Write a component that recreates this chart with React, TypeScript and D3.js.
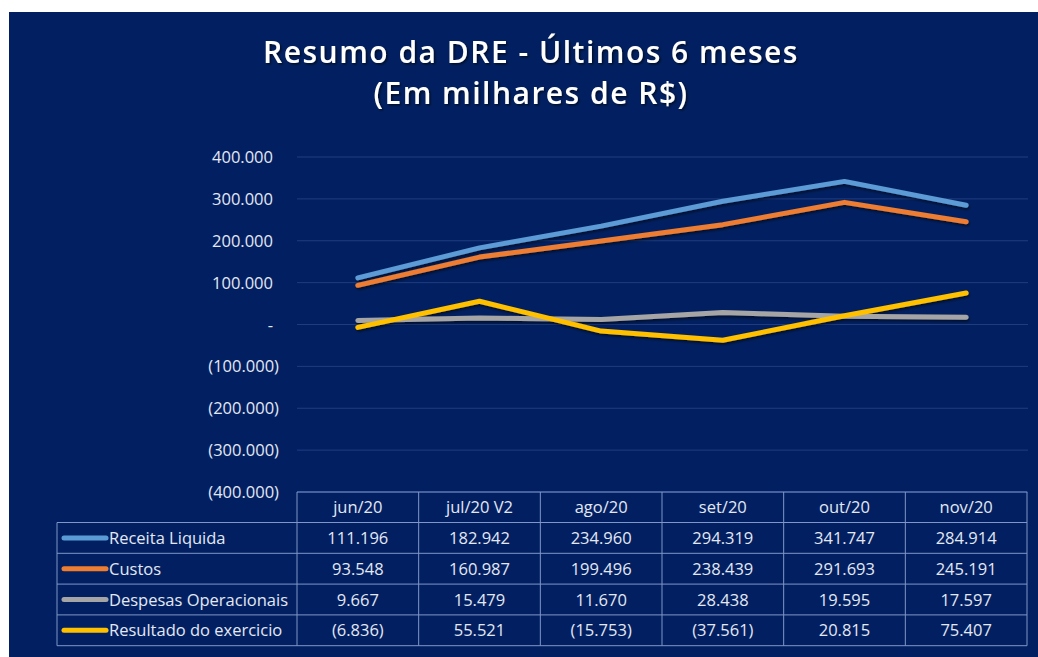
import React from "react";
import * as d3 from "d3";

const categories = ["jun/20", "jul/20 V2", "ago/20", "set/20", "out/20", "nov/20"];
const seriesNames = ["Receita Liquida", "Custos", "Despesas Operacionais", "Resultado do exercicio"];
const receita = [111196, 182942, 234960, 294319, 341747, 284914];
const custos = [93548, 160987, 199496, 238439, 291693, 245191];
const despesas = [9667, 15479, 11670, 28438, 19595, 17597];
const resultado = [-6836, 55521, -15753, -37561, 20815, 75407];
const colors = ["#5B9BD5", "#ED7D31", "#A5A5A5", "#FFC000"];
const yTicks = [400000, 300000, 200000, 100000, 0, -100000, -200000, -300000, -400000];

const W = 1038;
const H = 657;
const FONT = "'Open Sans', 'Noto Sans', sans-serif";

const fmtBase = d3.formatLocale({ decimal: ",", thousands: ".", grouping: [3], currency: ["R$", ""] }).format(",.0f");
function fmt(v: number): string {
  if (v === 0) return "-";
  if (v < 0) return "(" + fmtBase(-v) + ")";
  return fmtBase(v);
}

export default function App() {
  const series = [receita, custos, despesas, resultado];
  const plotLeft = 297;
  const plotRight = 1027;
  const x = d3.scaleBand<string>().domain(categories).range([plotLeft, plotRight]).padding(0);
  const y = d3.scaleLinear().domain([-400000, 400000]).range([492, 157]);
  const line = d3
    .line<number>()
    .x((_, i) => (x(categories[i]) as number) + x.bandwidth() / 2)
    .y((d) => y(d));

  const tableTop = 492;
  const headerH = 30.5;
  const rowH = 30.8;
  const labelLeft = 57;
  const tableBottom = tableTop + headerH + rowH * 4;
  const border = "#7f96c8";
  const textCol = "#e3e8f4";

  return (
    <div style={{ position: "fixed", left: 0, top: 0 }}>
      <svg width={W} height={H} style={{ display: "block", background: "#ffffff" }}>
        <defs>
          <filter id="sh" x="-10%" y="-50%" width="120%" height="200%">
            <feDropShadow dx="1" dy="2" stdDeviation="1.5" floodColor="#000000" floodOpacity="0.55" />
          </filter>
          <filter id="tsh" x="-10%" y="-50%" width="120%" height="200%">
            <feDropShadow dx="1.5" dy="1.5" stdDeviation="1" floodColor="#000000" floodOpacity="0.6" />
          </filter>
        </defs>
        <rect x={9} y={12} width={W - 9} height={H - 12} fill="#022061" />
        <g fill="#ffffff" fontFamily={FONT} fontWeight={600} fontSize={30} textAnchor="middle" filter="url(#tsh)" style={{ letterSpacing: "1.5px" }}>
          <text x={531} y={63}>Resumo da DRE - Últimos 6 meses</text>
          <text x={531} y={104}>(Em milhares de R$)</text>
        </g>
        {/* gridlines */}
        {yTicks.map((t) => (
          <line key={"g" + t} x1={plotLeft} x2={plotRight + 1} y1={y(t)} y2={y(t)} stroke="#1f3c80" strokeWidth={1} />
        ))}
        {/* y labels */}
        <g fontFamily={FONT} fontSize={16.5} fill={textCol}>
          {yTicks.map((t) => (
            <text key={"l" + t} x={t < 0 ? 279 : 273} y={y(t) + 6} textAnchor="end">
              {fmt(t)}
            </text>
          ))}
        </g>
        {/* lines */}
        <g filter="url(#sh)">
          {series.map((s, i) => (
            <path key={"p" + i} d={line(s) || ""} fill="none" stroke={colors[i]} strokeWidth={5} strokeLinecap="round" strokeLinejoin="round" />
          ))}
        </g>
        {/* table */}
        <g stroke={border} strokeWidth={1} fill="none">
          <line x1={plotLeft} x2={plotRight} y1={tableTop} y2={tableTop} />
          {d3.range(5).map((r) => (
            <line key={"h" + r} x1={labelLeft} x2={plotRight} y1={tableTop + headerH + r * rowH} y2={tableTop + headerH + r * rowH} />
          ))}
          <line x1={labelLeft} x2={labelLeft} y1={tableTop + headerH} y2={tableBottom} />
          {categories.map((c) => (
            <line key={"v" + c} x1={x(c) as number} x2={x(c) as number} y1={tableTop} y2={tableBottom} />
          ))}
          <line x1={plotRight} x2={plotRight} y1={tableTop} y2={tableBottom} />
        </g>
        <g fontFamily={FONT} fontSize={16.5} fill={textCol}>
          {categories.map((c) => (
            <text key={"c" + c} x={(x(c) as number) + x.bandwidth() / 2} y={tableTop + headerH / 2 + 6} textAnchor="middle">
              {c}
            </text>
          ))}
          {series.map((s, i) => {
            const cy = tableTop + headerH + i * rowH + rowH / 2;
            return (
              <g key={"r" + i}>
                <line x1={64} x2={106} y1={cy} y2={cy} stroke={colors[i]} strokeWidth={5} strokeLinecap="round" />
                <text x={109} y={cy + 6} textAnchor="start">
                  {seriesNames[i]}
                </text>
                {s.map((v, j) => (
                  <text key={j} x={(x(categories[j]) as number) + x.bandwidth() / 2} y={cy + 6} textAnchor="middle">
                    {fmt(v)}
                  </text>
                ))}
              </g>
            );
          })}
        </g>
      </svg>
    </div>
  );
}
